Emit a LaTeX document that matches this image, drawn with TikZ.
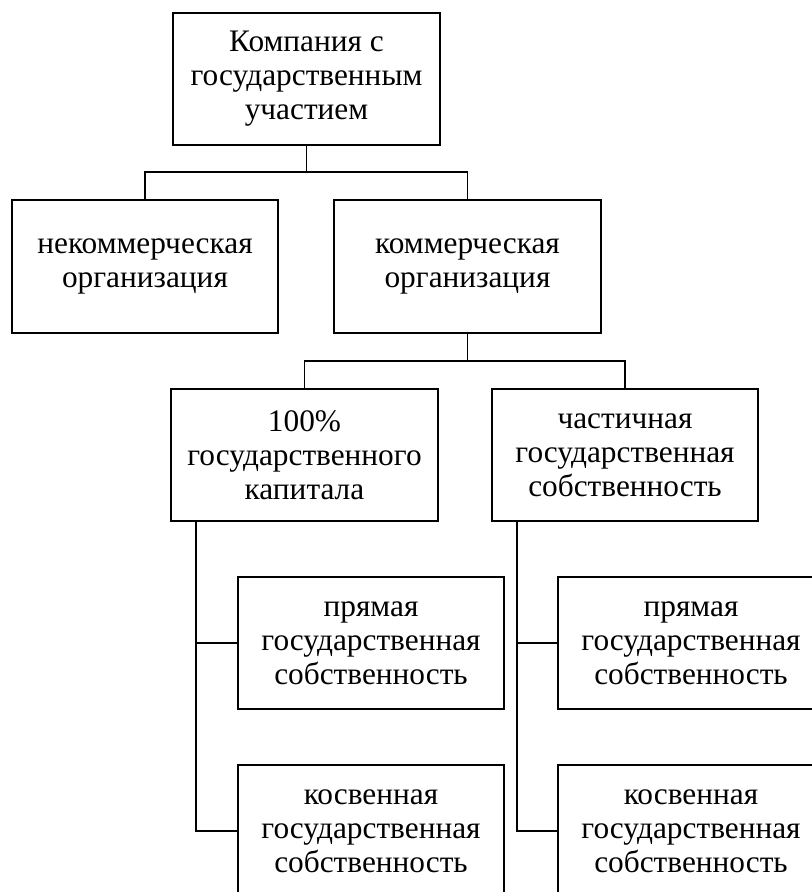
\documentclass[tikz,border=0pt]{standalone}
\usepackage{fontspec}
\setmainfont{Liberation Serif}
\begin{document}
\begin{tikzpicture}[x=0.75pt,y=-0.75pt,
  orgbox/.style={draw,line width=1.4pt,minimum width=200pt,minimum height=99.5pt,
    align=center,inner sep=2pt,font=\fontsize{23.5}{25.5}\selectfont},
  link/.style={line width=1.4pt}]
\useasboundingbox (0,0) rectangle (812,892);
% top level
\node[orgbox] (top) at (306.5,79) {Компания с\\государственным\\участием};
% second level
\node[orgbox] (nonc) at (145,266.5) {некоммерческая\\организация};
\node[orgbox] (comm) at (467.5,266.5) {коммерческая\\организация};
% third level
\node[orgbox] (full) at (304.5,455) {100\%\\государственного\\капитала};
\node[orgbox] (part) at (625,455) {частичная\\государственная\\собственность};
% fourth level
\node[orgbox] (d1) at (371,643) {прямая\\государственная\\собственность};
\node[orgbox] (i1) at (371,831) {косвенная\\государственная\\собственность};
\node[orgbox] (d2) at (691,643) {прямая\\государственная\\собственность};
\node[orgbox] (i2) at (691,831) {косвенная\\государственная\\собственность};
% connectors
\draw[link] (top.south) -- (top.south |- 0,172) -| (nonc.north);
\draw[link] (top.south |- 0,172) -| (comm.north);
\draw[link] (comm.south) -- (comm.south |- 0,361) -| (full.north);
\draw[link] (comm.south |- 0,361) -| (part.north);
\draw[link] ([xshift=19.5pt]full.south west) |- (d1.west);
\draw[link] ([xshift=19.5pt]full.south west) |- (i1.west);
\draw[link] ([xshift=19.5pt]part.south west) |- (d2.west);
\draw[link] ([xshift=19.5pt]part.south west) |- (i2.west);
\end{tikzpicture}
\end{document}
